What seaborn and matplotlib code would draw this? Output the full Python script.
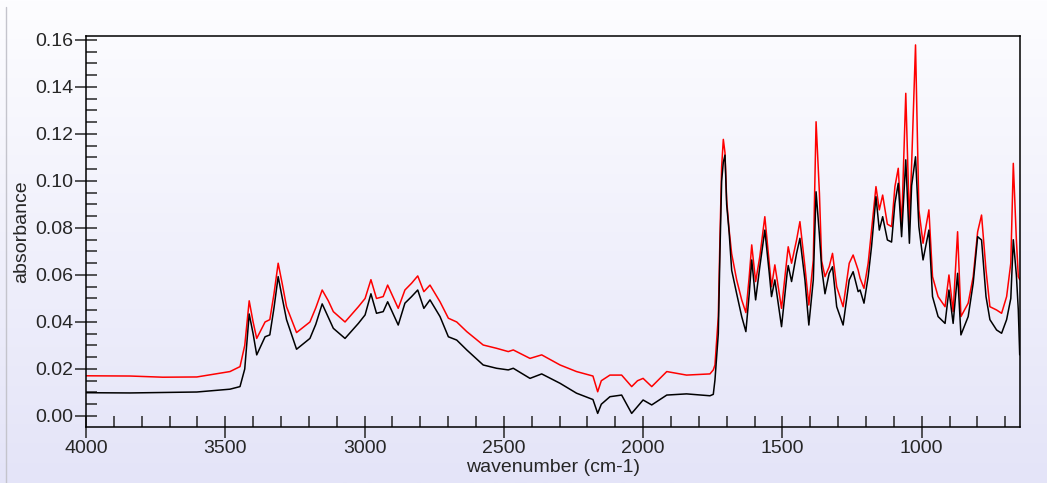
import numpy as np
import pandas as pd
import seaborn as sns
from matplotlib import pyplot as plt
from matplotlib.ticker import MultipleLocator, FormatStrFormatter
from matplotlib.lines import Line2D

# wavenumber (cm-1) sample points
wavenumber = [4000, 3842, 3724, 3602, 3483, 3447, 3430, 3414, 3400, 3387,
              3357, 3340, 3325, 3310, 3295, 3280, 3244, 3196, 3175, 3152,
              3130, 3112, 3070, 3022, 2998, 2977, 2957, 2933, 2917, 2879,
              2855, 2831, 2809, 2787, 2765, 2729, 2699, 2669, 2633, 2574,
              2526, 2484, 2466, 2406, 2364, 2298, 2239, 2180, 2163, 2150,
              2119, 2077, 2041, 2020, 2000, 1969, 1915, 1844, 1760, 1748,
              1742, 1730, 1724, 1718, 1712, 1706, 1700, 1691, 1682, 1664,
              1646, 1631, 1619, 1610, 1596, 1581, 1563, 1547, 1539, 1527,
              1503, 1483, 1479, 1467, 1449, 1437, 1419, 1405, 1389, 1379,
              1367, 1359, 1347, 1332, 1320, 1305, 1282, 1260, 1246, 1228,
              1221, 1207, 1192, 1180, 1164, 1152, 1140, 1123, 1108, 1096,
              1084, 1072, 1057, 1044, 1036, 1022, 1010, 995, 974, 961,
              941, 916, 902, 887, 871, 859, 833, 815, 799, 785,
              769, 755, 731, 713, 695, 680, 671, 660, 653, 648]

# red spectrum
sample_red = [0.0171, 0.0170, 0.0165, 0.0166, 0.0189, 0.0210, 0.0300, 0.0490, 0.0400, 0.0330,
              0.0400, 0.0410, 0.0520, 0.0650, 0.0560, 0.0465, 0.0355, 0.0400, 0.0460, 0.0536,
              0.0490, 0.0444, 0.0400, 0.0465, 0.0500, 0.0580, 0.0500, 0.0508, 0.0557, 0.0458,
              0.0536, 0.0565, 0.0596, 0.0529, 0.0557, 0.0486, 0.0416, 0.0400, 0.0359, 0.0302,
              0.0288, 0.0274, 0.0281, 0.0245, 0.0260, 0.0217, 0.0189, 0.0170, 0.0103, 0.0150,
              0.0174, 0.0174, 0.0125, 0.0150, 0.0160, 0.0125, 0.0189, 0.0174, 0.0179, 0.0196,
              0.0217, 0.0423, 0.0763, 0.1060, 0.1177, 0.1120, 0.0919, 0.0790, 0.0690, 0.0579,
              0.0494, 0.0440, 0.0593, 0.0728, 0.0572, 0.0678, 0.0848, 0.0650, 0.0550, 0.0643,
              0.0458, 0.0678, 0.0720, 0.0650, 0.0749, 0.0827, 0.0635, 0.0472, 0.0664, 0.1252,
              0.0948, 0.0660, 0.0593, 0.0635, 0.0692, 0.0550, 0.0465, 0.0650, 0.0685, 0.0621,
              0.0586, 0.0543, 0.0650, 0.0790, 0.0976, 0.0877, 0.0940, 0.0816, 0.0806, 0.0976,
              0.1054, 0.0806, 0.1373, 0.0820, 0.1070, 0.1579, 0.0877, 0.0735, 0.0877, 0.0593,
              0.0508, 0.0465, 0.0600, 0.0444, 0.0784, 0.0423, 0.0480, 0.0593, 0.0784, 0.0855,
              0.0621, 0.0465, 0.0451, 0.0437, 0.0508, 0.0650, 0.1075, 0.0750, 0.0593, 0.0580]

# black spectrum
sample_black = [0.0099, 0.0098, 0.0100, 0.0102, 0.0114, 0.0125, 0.0200, 0.0434, 0.0350, 0.0260,
                0.0337, 0.0345, 0.0460, 0.0593, 0.0500, 0.0410, 0.0284, 0.0330, 0.0390, 0.0477,
                0.0420, 0.0373, 0.0330, 0.0394, 0.0430, 0.0520, 0.0437, 0.0444, 0.0486, 0.0387,
                0.0480, 0.0508, 0.0536, 0.0458, 0.0494, 0.0423, 0.0337, 0.0323, 0.0281, 0.0217,
                0.0203, 0.0196, 0.0203, 0.0160, 0.0179, 0.0139, 0.0097, 0.0070, 0.0011, 0.0050,
                0.0082, 0.0089, 0.0011, 0.0040, 0.0068, 0.0047, 0.0089, 0.0094, 0.0086, 0.0092,
                0.0153, 0.0350, 0.0700, 0.1000, 0.1080, 0.1110, 0.0900, 0.0780, 0.0620, 0.0520,
                0.0423, 0.0359, 0.0520, 0.0664, 0.0494, 0.0635, 0.0791, 0.0607, 0.0508, 0.0579,
                0.0380, 0.0607, 0.0640, 0.0572, 0.0692, 0.0756, 0.0579, 0.0387, 0.0579, 0.0954,
                0.0770, 0.0630, 0.0520, 0.0607, 0.0635, 0.0465, 0.0387, 0.0579, 0.0614, 0.0529,
                0.0536, 0.0480, 0.0593, 0.0720, 0.0933, 0.0791, 0.0848, 0.0749, 0.0740, 0.0905,
                0.0990, 0.0763, 0.1090, 0.0735, 0.0980, 0.1103, 0.0806, 0.0664, 0.0791, 0.0508,
                0.0423, 0.0394, 0.0536, 0.0394, 0.0607, 0.0345, 0.0423, 0.0565, 0.0763, 0.0749,
                0.0508, 0.0410, 0.0366, 0.0352, 0.0410, 0.0500, 0.0750, 0.0600, 0.0450, 0.0260]

df = pd.DataFrame({'wavenumber': wavenumber, 'red': sample_red, 'black': sample_black})

sns.set_style('ticks')
plt.rcParams['font.family'] = ['Liberation Sans', 'DejaVu Sans']

fig = plt.figure(figsize=(10.47, 4.83), dpi=100)

# gradient background (white at top to lavender at bottom)
bg = fig.add_axes([0, 0, 1, 1], zorder=-10)
grad = np.linspace(0, 1, 256).reshape(-1, 1)
top_c = np.array([253, 253, 255]) / 255
bot_c = np.array([228, 228, 248]) / 255
img = top_c + (bot_c - top_c) * grad[:, :, None]
bg.imshow(img, aspect='auto', extent=[0, 1, 0, 1])
bg.axis('off')
fig.add_artist(Line2D([0.0057, 0.0057], [0, 0.985], color='#c4c4cc', lw=1))

ax = fig.add_axes([0.0821, 0.1159, 0.8921, 0.8096])
ax.set_facecolor('none')

sns.lineplot(data=df, x='wavenumber', y='red', color='#ff0000', lw=1.1, estimator=None, ax=ax)
sns.lineplot(data=df, x='wavenumber', y='black', color='black', lw=1.1, estimator=None, ax=ax)

ax.set_xlim(4000, 647)
ax.set_ylim(-0.0047, 0.1617)
ax.xaxis.set_major_locator(MultipleLocator(500))
ax.xaxis.set_minor_locator(MultipleLocator(100))
ax.yaxis.set_major_locator(MultipleLocator(0.02))
ax.yaxis.set_minor_locator(MultipleLocator(0.005))
ax.yaxis.set_major_formatter(FormatStrFormatter('%.2f'))

ax.tick_params(which='major', direction='inout', length=16, width=1.1, labelsize=14, pad=1)
ax.tick_params(which='minor', direction='in', length=8, width=1.1)
for s in ax.spines.values():
    s.set_linewidth(1.1)
    s.set_color('black')

ax.set_xlabel('wavenumber (cm-1)', fontsize=14, labelpad=2)
ax.set_ylabel('absorbance', fontsize=14, labelpad=4)

fig.savefig('out.png', dpi=100)
